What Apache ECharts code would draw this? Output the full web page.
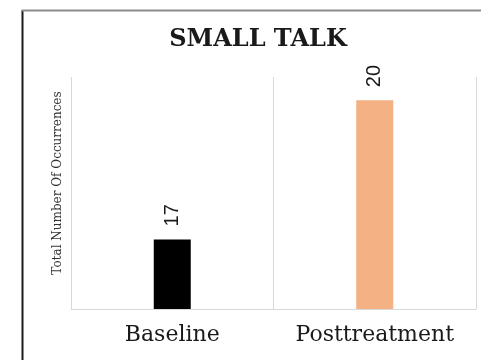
<!DOCTYPE html>
<html>
<head>
<meta charset="utf-8">
<script src="https://cdn.jsdelivr.net/npm/echarts@6/dist/echarts.min.js"></script>
<style>
html,body{margin:0;padding:0;background:#fff;}
#chart{width:481px;height:360px;}
</style>
</head>
<body>
<div id="chart"></div>
<script>
const titleText = 'SMALL TALK';
const yAxisName = 'Total Number Of Occurrences';
const categories = ['Baseline', 'Posttreatment'];
const values = [17, 20];
const barColors = ['#000000', '#F4B183'];

const chart = echarts.init(document.getElementById('chart'), null, {renderer: 'canvas'});
chart.setOption({
  animation: false,
  backgroundColor: '#ffffff',
  title: {
    text: titleText,
    left: 253,
    top: 23,
    textAlign: 'center',
    textStyle: {fontFamily: 'DejaVu Serif', fontWeight: 'bold', fontSize: 24, color: '#1a1a1a'}
  },
  graphic: [
    {type: 'line', shape: {x1: 22.5, y1: 10, x2: 22.5, y2: 360}, style: {stroke: '#1a1a1a', lineWidth: 2}},
    {type: 'line', shape: {x1: 22, y1: 10.5, x2: 481, y2: 10.5}, style: {stroke: '#8c8c8c', lineWidth: 2}}
  ],
  grid: {left: 71, right: 5, top: 77, bottom: 51},
  xAxis: {
    type: 'category',
    data: categories,
    boundaryGap: true,
    axisLine: {show: true, lineStyle: {color: '#d9d9d9', width: 1}},
    axisTick: {show: false, interval: 0},
    splitLine: {show: true, interval: 0, lineStyle: {color: '#d9d9d9', width: 1}},
    axisLabel: {interval: 0, hideOverlap: false, fontFamily: 'DejaVu Serif', fontSize: 22, color: '#1a1a1a', margin: 15}
  },
  yAxis: {
    type: 'value',
    min: 15.5,
    max: 20.5,
    name: yAxisName,
    nameLocation: 'middle',
    nameGap: 7,
    nameTextStyle: {fontFamily: 'DejaVu Serif', fontSize: 12, color: '#333', padding: [0, 0, 0, 20]},
    axisLine: {show: false},
    axisTick: {show: false},
    axisLabel: {show: false},
    splitLine: {show: false}
  },
  series: [{
    type: 'bar',
    barWidth: 37,
    data: values.map((v, i) => ({value: v, itemStyle: {color: barColors[i]}})),
    label: {
      show: true,
      position: 'top',
      distance: 13,
      rotate: 90,
      align: 'left',
      verticalAlign: 'middle',
      fontFamily: 'Liberation Sans',
      fontSize: 20,
      color: '#1a1a1a'
    }
  }]
});
</script>
</body>
</html>
